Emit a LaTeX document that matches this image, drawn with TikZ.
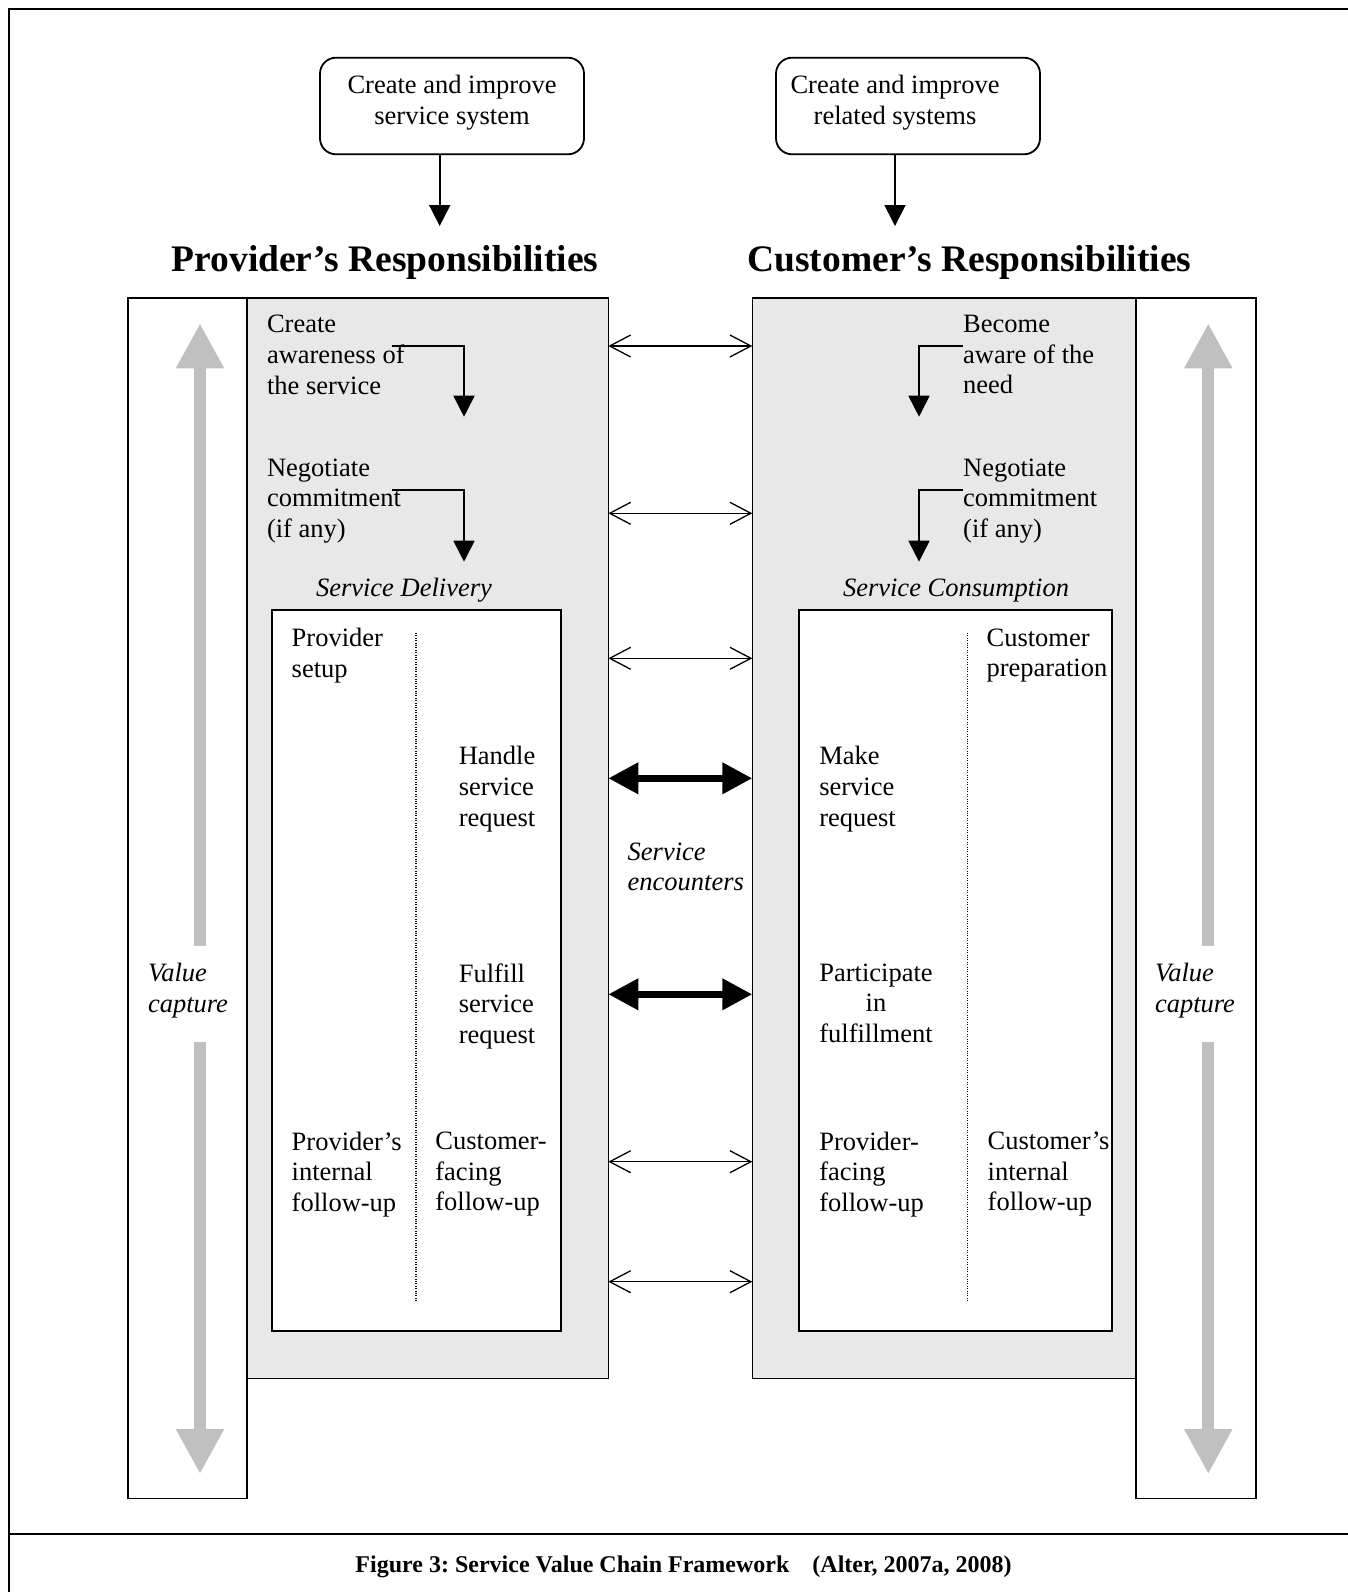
\documentclass[tikz,border=0pt]{standalone}
\usepackage{fontspec}
\setmainfont{Liberation Serif}
\usetikzlibrary{arrows.meta}
\definecolor{panelgray}{HTML}{E8E8E8}
\definecolor{arrowgray}{HTML}{C0C0C0}
\frenchspacing
\begin{document}
\begin{tikzpicture}[x=1pt,y=-1pt,
  txt/.style={font=\fontsize{26.5}{30.7}\selectfont, inner sep=0pt, outer sep=0pt, align=left, anchor=north west},
  itx/.style={txt, font=\fontsize{26.5}{30.7}\selectfont\itshape},
  ctx/.style={txt, align=center},
  title/.style={font=\fontsize{37.5}{40}\selectfont\bfseries, inner sep=0pt, anchor=base},
  topbox/.style={draw, line width=1.8pt, rounded corners=16pt, minimum width=264pt, minimum height=96.6pt, inner sep=0pt},
  panel/.style={draw, line width=1.6pt, fill=panelgray, inner sep=0pt, outer sep=0pt, anchor=north west},
  strip/.style={draw, line width=1.6pt, fill=white, inner sep=0pt, outer sep=0pt, anchor=north west},
  inbox/.style={draw, line width=2.3pt, fill=white, inner sep=0pt, outer sep=0pt, anchor=north west},
  downarr/.style={line width=1.8pt, -{Triangle[length=21pt,width=21pt]}},
  thinarr/.style={line width=1.3pt, {Straight Barb[length=21pt,width=22pt]}-{Straight Barb[length=21pt,width=22pt]}},
  thickarr/.style={line width=7pt, {Triangle[length=30pt,width=30pt]}-{Triangle[length=30pt,width=30pt]}},
  grayarr/.style={line width=12pt, draw=arrowgray, -{Triangle[length=45pt,width=45pt]}},
  dotline/.style={line width=1.4pt, dash pattern=on 1pt off 1.4pt}
]
\useasboundingbox (0,0) rectangle (1348,1592);

% outer frame
\draw[line width=2pt] (8.6,1600) -- (8.6,9) -- (1360,9);
\draw[line width=2.2pt] (8.6,1534) -- (1360,1534);
\node[font=\fontsize{24}{26}\selectfont\bfseries, inner sep=0pt, anchor=base] (cap) at (683.5,1572)
  {Figure 3: Service Value Chain Framework\hspace{23pt}(Alter, 2007a, 2008)};

% top boxes
\node[topbox] (b1) at (452,106) {};
\node[ctx, anchor=north, font=\fontsize{26.5}{31.6}\selectfont] (b1t) at (452,75) {Create and improve\\service system};
\node[topbox] (b2) at (908,106) {};
\node[ctx, anchor=north, font=\fontsize{26.5}{31.6}\selectfont] (b2t) at (895,75) {Create and improve\\related systems};
\coordinate (ta1) at (439.7,226);
\coordinate (ta2) at (895,226);
\draw[downarr] (b1.south -| ta1) -- (ta1);
\draw[downarr] (b2.south -| ta2) -- (ta2);

% titles
\node[title] (t1) at (385,271) {Provider’s Responsibilities};
\node[title] (t2) at (969.5,271) {Customer’s Responsibilities};

% strips and panels
\node[strip, minimum width=119.3pt, minimum height=1200.3pt] (lstrip) at (127.7,298) {};
\node[strip, minimum width=120pt, minimum height=1200.3pt] (rstrip) at (1136,298) {};
\node[panel, minimum width=361.3pt, minimum height=1080.3pt] (lpanel) at (247,298) {};
\node[panel, minimum width=383.7pt, minimum height=1080.3pt] (rpanel) at (752.3,298) {};
\node[inbox, minimum width=289pt, minimum height=720.7pt] (linbox) at (271.7,610) {};
\node[inbox, minimum width=312.4pt, minimum height=720.7pt] (rinbox) at (799.3,610) {};

% dotted dividers
\coordinate (d1a) at (416,633); \coordinate (d1b) at (416,1302);
\coordinate (d2a) at (967.7,633); \coordinate (d2b) at (967.7,1302);
\draw[dotline] (d1a) -- (d1b);
\draw[dotline] (d2a) -- (d2b);

% value capture arrows
\coordinate (g1a) at (200,945.7); \coordinate (g1b) at (200,323.3);
\coordinate (g1c) at (200,1042);  \coordinate (g1d) at (200,1474);
\coordinate (g2a) at (1208.3,945.7); \coordinate (g2b) at (1208.3,323.3);
\coordinate (g2c) at (1208.3,1042);  \coordinate (g2d) at (1208.3,1474);
\draw[grayarr] (g1a) -- (g1b);
\draw[grayarr] (g1c) -- (g1d);
\draw[grayarr] (g2a) -- (g2b);
\draw[grayarr] (g2c) -- (g2d);
\node[itx] (v1) at (148,963.5) {Value\\capture};
\node[itx] (v2) at (1155,963.5) {Value\\capture};

% left panel texts
\node[txt] (l1) at (267,315.2) {Create\\awareness of\\the service};
\node[txt] (l2) at (267,458.5) {Negotiate\\commitment\\(if any)};
\node[itx, anchor=base west] (l3) at (316,596) {Service Delivery};
\node[txt] (l4) at (291.7,628.5) {Provider\\setup};
\node[txt] (l5) at (458.8,746.5) {Handle\\service\\request};
\node[txt] (l6) at (458.8,963.5) {Fulfill\\service\\request};
\node[txt] (l7) at (291.7,1131.8) {Provider’s\\internal\\follow-up};
\node[txt] (l8) at (435.4,1131.8) {Customer-\\facing\\follow-up};

% right panel texts
\node[txt] (r1) at (963.2,315.2) {Become\\aware of the\\need};
\node[txt] (r2) at (963.2,458.5) {Negotiate\\commitment\\(if any)};
\node[itx, anchor=base] (r3) at (956,596) {Service Consumption};
\node[txt] (r4) at (986.6,628.5) {Customer\\preparation};
\node[txt] (r5) at (819.3,746.5) {Make\\service\\request};
\node[ctx] (r6) at (819.3,963.5) {Participate\\in\\fulfillment};
\node[txt] (r7) at (819.3,1131.8) {Provider-\\facing\\follow-up};
\node[txt] (r8) at (987.7,1131.8) {Customer’s\\internal\\follow-up};

% elbow arrows
\coordinate (e1s) at (391.7,346); \coordinate (e1e) at (464,416.7);
\coordinate (e2s) at (391.7,490); \coordinate (e2e) at (464,561.7);
\coordinate (e3s) at (963,346);   \coordinate (e3e) at (919,416.7);
\coordinate (e4s) at (963,490);   \coordinate (e4e) at (919,561.7);
\draw[downarr] (e1s) -| (e1e);
\draw[downarr] (e2s) -| (e2e);
\draw[downarr] (e3s) -| (e3e);
\draw[downarr] (e4s) -| (e4e);

% service encounter arrows
\foreach \yy/\nm in {346/m1, 513.3/m2, 658.3/m3, 1161.7/m4, 1281.7/m5}{
  \coordinate (\nm) at (680,\yy);
  \draw[thinarr] (lpanel.east |- \nm) -- (rpanel.west |- \nm);
}
\foreach \yy/\nm in {778.3/k1, 994.3/k2}{
  \coordinate (\nm) at (680,\yy);
  \draw[thickarr] (lpanel.east |- \nm) -- (rpanel.west |- \nm);
}
\node[itx] (se) at (627.7,842.5) {Service\\encounters};
\end{tikzpicture}
\end{document}
